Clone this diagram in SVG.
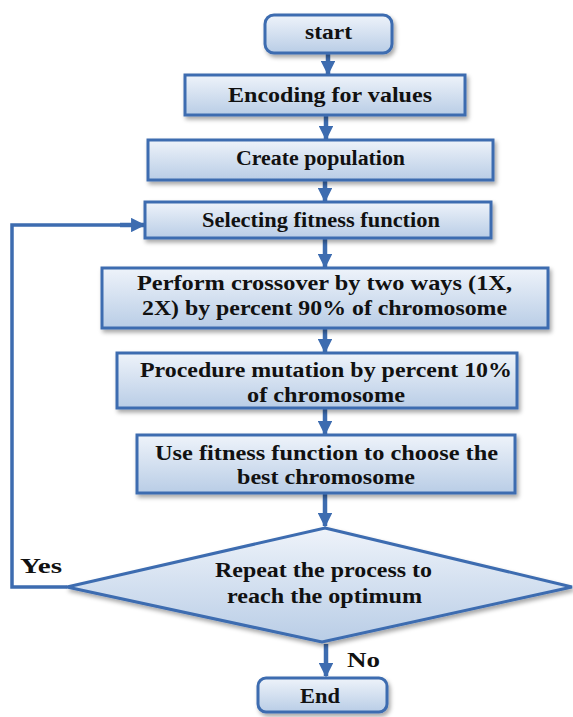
<svg xmlns="http://www.w3.org/2000/svg" width="573" height="717" viewBox="0 0 573 717">
<defs>
<linearGradient id="g" x1="0" y1="0" x2="0" y2="1">
<stop offset="0" stop-color="#eef3fa"/>
<stop offset="1" stop-color="#b9cde6"/>
</linearGradient>
<filter id="sh" x="-10%" y="-20%" width="120%" height="150%">
<feDropShadow dx="2" dy="3" stdDeviation="2" flood-color="#000" flood-opacity="0.35"/>
</filter>
<marker id="ah" viewBox="0 0 10 10" refX="9" refY="5" markerWidth="3.2" markerHeight="3.2" orient="auto" markerUnits="strokeWidth">
<path d="M0,0 L10,5 L0,10 z" fill="#3d6cb0"/>
</marker>
<style>
.box{fill:url(#g);stroke:#3d6cb0;stroke-width:3;filter:url(#sh)}
.t{font-weight:bold;font-size:20px;fill:#111;text-anchor:start}
.c{fill:none;stroke:#3d6cb0;stroke-width:4.5;marker-end:url(#ah)}
.l{fill:none;stroke:#3d6cb0;stroke-width:3.5}
</style>
</defs>
<g id="connectors">
<line class="c" x1="328" y1="54" x2="328" y2="74"/>
<line class="c" x1="326" y1="116" x2="326" y2="139"/>
<line class="c" x1="325" y1="181" x2="325" y2="201"/>
<line class="c" x1="325" y1="239" x2="325" y2="267"/>
<line class="c" x1="325" y1="329" x2="325" y2="352"/>
<line class="c" x1="325" y1="409" x2="325" y2="434"/>
<line class="c" x1="325" y1="494" x2="325" y2="526"/>
<line class="c" x1="326" y1="644" x2="326" y2="676"/>
<polyline class="l" points="67,587 12,587 12,225 130,225"/>
<line class="c" x1="120" y1="225" x2="144" y2="225"/>
</g>
<g font-family="'Liberation Serif', 'Times New Roman', serif">
<g id="start"><rect class="box" x="265" y="15" width="127" height="38" rx="9"/><text class="t" x="305" y="39" textLength="47" lengthAdjust="spacingAndGlyphs">start</text></g>
<g id="encoding"><rect class="box" x="185" y="75" width="280" height="40"/><text class="t" x="228" y="102" textLength="204" lengthAdjust="spacingAndGlyphs">Encoding for values</text></g>
<g id="population"><rect class="box" x="148" y="140" width="345" height="40"/><text class="t" x="236" y="165" textLength="169" lengthAdjust="spacingAndGlyphs">Create population</text></g>
<g id="selecting"><rect class="box" x="145" y="202" width="346" height="36"/><text class="t" x="202" y="227" textLength="238" lengthAdjust="spacingAndGlyphs">Selecting fitness function</text></g>
<g id="crossover"><rect class="box" x="102" y="268" width="446" height="60"/><text class="t" x="137" y="290" textLength="375" lengthAdjust="spacingAndGlyphs">Perform crossover by two ways (1X,</text><text class="t" x="142" y="315" textLength="365" lengthAdjust="spacingAndGlyphs">2X) by percent 90% of chromosome</text></g>
<g id="mutation"><rect class="box" x="117" y="353" width="400" height="55"/><text class="t" x="140" y="377" textLength="372" lengthAdjust="spacingAndGlyphs">Procedure mutation by percent 10%</text><text class="t" x="247" y="402" textLength="158" lengthAdjust="spacingAndGlyphs">of chromosome</text></g>
<g id="usefitness"><rect class="box" x="137" y="435" width="378" height="58"/><text class="t" x="155" y="460" textLength="343" lengthAdjust="spacingAndGlyphs">Use fitness function to choose the</text><text class="t" x="237" y="484" textLength="178" lengthAdjust="spacingAndGlyphs">best chromosome</text></g>
<g id="decision"><polygon class="box" points="325,528 572,587 322,642 67,587"/><text class="t" x="215" y="577" textLength="217" lengthAdjust="spacingAndGlyphs">Repeat the process to</text><text class="t" x="227" y="603" textLength="195" lengthAdjust="spacingAndGlyphs">reach the optimum</text></g>
<g id="end"><rect class="box" x="258" y="678" width="129" height="34" rx="8"/><text class="t" x="300" y="703" textLength="40" lengthAdjust="spacingAndGlyphs">End</text></g>
<text class="t" x="20" y="573" textLength="42" lengthAdjust="spacingAndGlyphs">Yes</text>
<text class="t" x="347" y="667" textLength="33" lengthAdjust="spacingAndGlyphs">No</text>
</g>
</svg>
